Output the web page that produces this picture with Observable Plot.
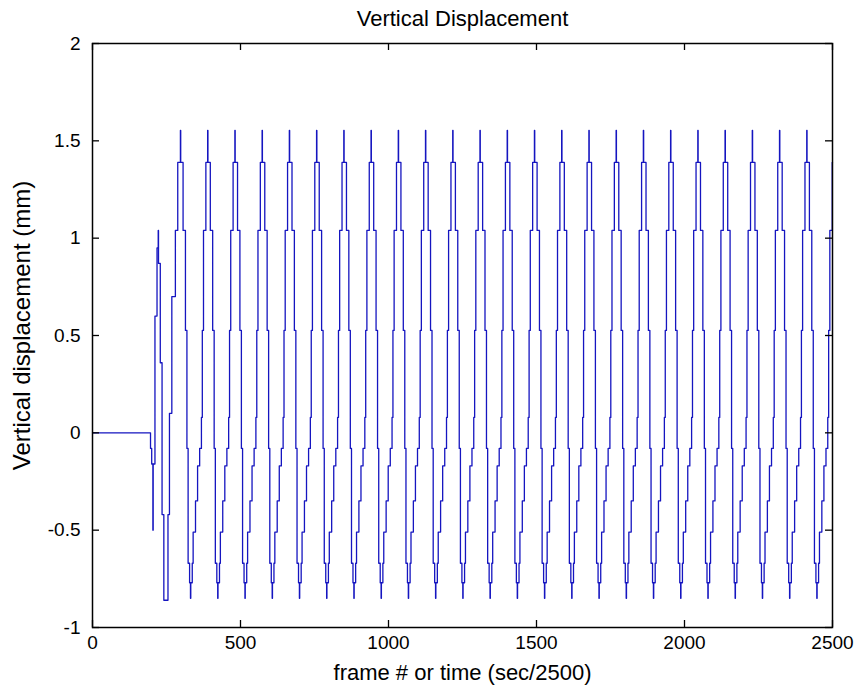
<!DOCTYPE html>
<html><head><meta charset="utf-8">
<script src="https://cdn.jsdelivr.net/npm/d3@7"></script>
<script src="https://cdn.jsdelivr.net/npm/@observablehq/plot@0.6"></script>
<style>body{margin:0;background:#fff}</style>
</head><body><div id="chart"></div>
<script>
const title = "Vertical Displacement";
const xLabel = "frame # or time (sec/2500)";
const yLabel = "Vertical displacement (mm)";
const xTicks = [0, 500, 1000, 1500, 2000, 2500];
const yTicks = [-1, -0.5, 0, 0.5, 1, 1.5, 2];

// onset of the trace (frame, value) before the first full cycle
const onsetFrames = [0, 196, 200, 204, 205, 211, 218, 222, 223, 229, 235, 241, 255, 260, 268, 280, 288];
const onsetValues = [0, -0.08, -0.16, -0.50, -0.16, 0.60, 0.95, 1.04, 0.87, 0.36, -0.42, -0.86, -0.42, 0.10, 0.70, 1.04, 1.389];

// frame of each peak of the regular cycles
const peakFrames = [297, 389, 481, 573, 665, 757, 849, 941, 1033, 1125, 1217, 1309, 1401, 1493, 1585, 1677, 1769, 1861, 1953, 2045, 2137, 2229, 2321, 2413];
// held levels inside one cycle: frame offset from its peak, value
const cycleOffsets = [0, 1, 9, 17, 22, 26, 31, 34, 35, 40, 43, 51, 58, 65, 71, 74, 78, 86];
const cycleValues = [1.553, 1.389, 1.04, 0.526, -0.08, -0.67, -0.77, -0.85, -0.77, -0.67, -0.51, -0.35, -0.17, -0.08, 0.079, 0.526, 1.04, 1.389];
const lastFrame = 2500;

const pts = onsetFrames.map((f, i) => ({frame: f, v: onsetValues[i]}));
for (const p of peakFrames) {
  cycleOffsets.forEach((o, i) => { if (p + o <= lastFrame) pts.push({frame: p + o, v: cycleValues[i]}); });
}
pts.push({frame: lastFrame, v: pts[pts.length - 1].v});

const W = 860, H = 692, mL = 92, mR = 28, mT = 43, mB = 65, tick = 7;
const fw = W - mL - mR, fh = H - mT - mB;

const chart = Plot.plot({
  width: W, height: H,
  marginLeft: mL, marginRight: mR, marginTop: mT, marginBottom: mB,
  style: {fontFamily: "'Liberation Sans', Arial, Helvetica, sans-serif", fontSize: "19px", background: "#fff", color: "#000"},
  x: {domain: [0, 2500]},
  y: {domain: [-1, 2]},
  marks: [
    Plot.line(pts, {x: "frame", y: "v", curve: "step-after", stroke: "#1515c0", strokeWidth: 1.3}),
    Plot.tickX(xTicks, {x: d => d, insetTop: fh - tick, stroke: "#000", strokeWidth: 1.3}),
    Plot.tickX(xTicks, {x: d => d, insetBottom: fh - tick, stroke: "#000", strokeWidth: 1.3}),
    Plot.tickY(yTicks, {y: d => d, insetRight: fw - tick, stroke: "#000", strokeWidth: 1.3}),
    Plot.tickY(yTicks, {y: d => d, insetLeft: fw - tick, stroke: "#000", strokeWidth: 1.3}),
    Plot.frame({stroke: "#000", strokeWidth: 1.5}),
    Plot.axisX(xTicks, {anchor: "bottom", tickSize: 0, tickPadding: 8, tickFormat: d => String(d), label: null}),
    Plot.axisY(yTicks, {anchor: "left", tickSize: 0, tickPadding: 12, tickFormat: d => String(d), label: null}),
    Plot.text([title], {frameAnchor: "top", dy: -25, fontSize: 22, textAnchor: "middle", lineAnchor: "middle"}),
    Plot.text([xLabel], {frameAnchor: "bottom", dy: 45, fontSize: 22, textAnchor: "middle", lineAnchor: "middle"}),
    Plot.text([yLabel], {frameAnchor: "left", dx: -70, dy: -10, rotate: -90, fontSize: 24, textAnchor: "middle", lineAnchor: "middle"})
  ]
});
document.getElementById("chart").appendChild(chart);
</script>
</body></html>
